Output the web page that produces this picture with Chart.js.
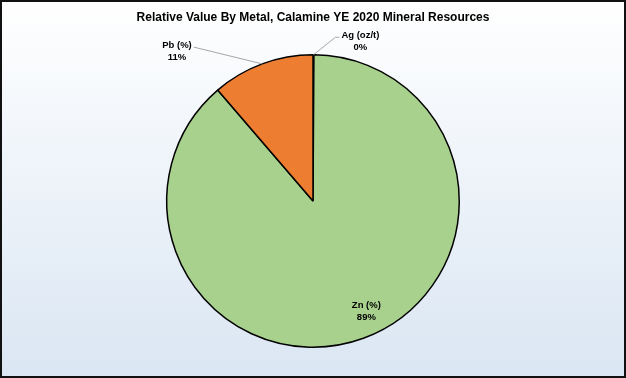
<!DOCTYPE html>
<html>
<head>
<meta charset="utf-8">
<script src="https://cdn.jsdelivr.net/npm/chart.js@4/dist/chart.umd.min.js"></script>
<style>
  html, body { margin: 0; padding: 0; background: #fff; }
  #wrap { position: absolute; left: 0; top: 0; width: 626px; height: 378px; }
  canvas { display: block; }
</style>
</head>
<body>
<div id="wrap"><canvas id="c" width="626" height="378"></canvas></div>
<script>
const titleText = 'Relative Value By Metal, Calamine YE 2020 Mineral Resources';
const categories = ['Ag (oz/t)', 'Zn (%)', 'Pb (%)'];
const shares = [0.1, 88.6, 11.3];
const percentLabels = ['0%', '89%', '11%'];
const sliceColors = ['#a5a5a5', '#a9d18e', '#ed7d31'];

// label placement, in units of the pie radius, relative to the pie centre
const labelPlacement = [
  { dx: 0.324, dy: -1.092, leader: true, side: 'left' },
  { dx: 0.365, dy: 0.755, leader: false },
  { dx: -0.93, dy: -1.025, leader: true, side: 'right' }
];

const backgroundPlugin = {
  id: 'bg',
  beforeDraw(chart) {
    const { ctx, width, height } = chart;
    ctx.save();
    const g = ctx.createLinearGradient(0, 0, 0, height);
    g.addColorStop(0, '#ffffff');
    g.addColorStop(1, '#dae6f3');
    ctx.fillStyle = g;
    ctx.fillRect(0, 0, width, height);
    ctx.strokeStyle = '#111';
    ctx.lineWidth = 2;
    ctx.strokeRect(1, 1, width - 2, height - 2);
    ctx.restore();
  }
};

const labelPlugin = {
  id: 'sliceLabels',
  afterDatasetsDraw(chart) {
    const { ctx } = chart;
    const meta = chart.getDatasetMeta(0);
    ctx.save();
    ctx.font = 'bold 9.5px "Liberation Sans", Arial, sans-serif';
    ctx.fillStyle = '#000';
    ctx.textAlign = 'center';
    ctx.textBaseline = 'middle';
    meta.data.forEach((arc, i) => {
      const p = labelPlacement[i];
      const r = arc.outerRadius;
      const tx = arc.x + p.dx * r;
      const ty = arc.y + p.dy * r;
      const l1 = categories[i];
      const l2 = percentLabels[i];
      if (p.leader) {
        const mid = (arc.startAngle + arc.endAngle) / 2;
        const ax = arc.x + Math.cos(mid) * r;
        const ay = arc.y + Math.sin(mid) * r;
        const w = ctx.measureText(l1).width;
        const ex = p.side === 'right' ? tx + w / 2 + 2 : tx - w / 2 - 2;
        const ey = ty - 4;
        ctx.strokeStyle = '#a6a6a6';
        ctx.lineWidth = 1;
        ctx.beginPath();
        ctx.moveTo(ax, ay);
        if (p.side === 'left') {
          ctx.lineTo(ex - 4, ey);
          ctx.lineTo(ex, ey);
        } else {
          ctx.lineTo(ex, ey);
        }
        ctx.stroke();
      }
      ctx.fillText(l1, tx, ty - 5.8);
      ctx.fillText(l2, tx, ty + 5.8);
    });
    ctx.restore();
  }
};

new Chart(document.getElementById('c'), {
  type: 'pie',
  data: {
    labels: categories,
    datasets: [{
      data: shares,
      backgroundColor: sliceColors,
      borderColor: '#000',
      borderWidth: 1.5
    }]
  },
  options: {
    responsive: false,
    animation: false,
    layout: { padding: { top: 0, bottom: 30, left: 0, right: 0 } },
    plugins: {
      legend: { display: false },
      tooltip: { enabled: false },
      title: {
        display: true,
        text: titleText,
        color: '#000',
        font: { family: '"Liberation Sans", Arial, sans-serif', size: 12, weight: 'bold' },
        padding: { top: 10, bottom: 29.6 }
      }
    }
  },
  plugins: [backgroundPlugin, labelPlugin]
});
</script>
</body>
</html>
